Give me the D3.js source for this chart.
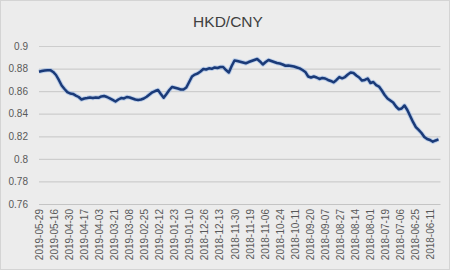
<!DOCTYPE html>
<html>
<head>
<meta charset="utf-8">
<script src="https://cdn.jsdelivr.net/npm/d3@7"></script>
<style>
  html, body { margin: 0; padding: 0; background: #fff; }
  svg { display: block; font-family: "Liberation Sans", Arial, sans-serif; }
</style>
</head>
<body>
<div id="chart"></div>
<script>
var width = 456, height = 274;

var title = "HKD/CNY";

// newest on the left, as in the source sheet
var dateLabels = [
    "2019-05-29", "2019-05-16", "2019-04-30", "2019-04-17", "2019-04-03", "2019-03-21",
    "2019-03-08", "2019-02-25", "2019-02-12", "2019-01-23", "2019-01-10", "2018-12-26",
    "2018-12-13", "2018-11-30", "2018-11-19", "2018-11-06", "2018-10-24", "2018-10-11",
    "2018-09-20", "2018-09-07", "2018-08-27", "2018-08-14", "2018-08-01", "2018-07-19",
    "2018-07-06", "2018-06-25", "2018-06-11"
];

var yTicks = [0.76, 0.78, 0.8, 0.82, 0.84, 0.86, 0.88, 0.9];

var rates = [
    0.8772, 0.8778, 0.8783, 0.8786, 0.8786, 0.8770, 0.8743, 0.8699, 0.8650, 0.8619,
    0.8592, 0.8579, 0.8575, 0.8561, 0.8548, 0.8526, 0.8535, 0.8539, 0.8544, 0.8539,
    0.8544, 0.8541, 0.8553, 0.8557, 0.8548, 0.8535, 0.8522, 0.8508, 0.8526, 0.8539,
    0.8535, 0.8548, 0.8544, 0.8535, 0.8526, 0.8522, 0.8526, 0.8535, 0.8550, 0.8570,
    0.8590, 0.8601, 0.8610, 0.8575, 0.8542, 0.8575, 0.8610, 0.8637, 0.8630, 0.8623,
    0.8615, 0.8615, 0.8632, 0.8681, 0.8730, 0.8747, 0.8756, 0.8774, 0.8796, 0.8792,
    0.8802, 0.8798, 0.8810, 0.8805, 0.8814, 0.8814, 0.8787, 0.8765, 0.8823, 0.8872,
    0.8867, 0.8861, 0.8854, 0.8847, 0.8858, 0.8867, 0.8876, 0.8885, 0.8863, 0.8836,
    0.8858, 0.8876, 0.8867, 0.8858, 0.8849, 0.8845, 0.8836, 0.8825, 0.8827, 0.8823,
    0.8818, 0.8810, 0.8802, 0.8787, 0.8770, 0.8730, 0.8721, 0.8730, 0.8721, 0.8708,
    0.8717, 0.8712, 0.8699, 0.8690, 0.8678, 0.8699, 0.8725, 0.8714, 0.8725, 0.8747,
    0.8765, 0.8761, 0.8739, 0.8721, 0.8694, 0.8699, 0.8712, 0.8672, 0.8681, 0.8654,
    0.8641, 0.8606, 0.8566, 0.8535, 0.8517, 0.8499, 0.8464, 0.8439, 0.8446, 0.8473,
    0.8433, 0.8380, 0.8327, 0.8282, 0.8256, 0.8229, 0.8194, 0.8176, 0.8167, 0.8152,
    0.8163, 0.8172
];
// index of the point that carries the last date label
var lastLabelIdx = 138;

var margin = {left: 39, right: 16, top: 46, bottom: 70};

var svg = d3.select("#chart")
    .append("svg")
    .attr("width", width)
    .attr("height", height);

svg.append("rect")
    .attr("x", 0.5).attr("y", 0.5)
    .attr("width", 449).attr("height", 269)
    .attr("fill", "#ececec")
    .attr("stroke", "#d4d4d4");

var x = d3.scaleLinear()
    .domain([0, rates.length - 1])
    .range([margin.left, width - margin.right - 1.5]);

var y = d3.scaleLinear()
    .domain([0.76, 0.9])
    .range([height - margin.bottom, margin.top]);

// gridlines + y labels
var yAxis = d3.axisLeft(y)
    .tickValues(yTicks)
    .tickSize(-(x.range()[1] - x.range()[0] + 2))
    .tickPadding(11)
    .tickFormat(d => String(+d.toFixed(2)));

var gy = svg.append("g")
    .attr("transform", "translate(" + margin.left + ",0)")
    .call(yAxis);
gy.select(".domain").remove();
gy.selectAll(".tick line")
    .attr("stroke", d => d === 0.76 ? "#c4c4c4" : "#cdcdcd")
    .attr("stroke-width", 1.2);
gy.selectAll(".tick text")
    .attr("fill", "#595959")
    .attr("font-size", "10px")
    .attr("font-family", "Liberation Sans, Arial, sans-serif");

// rotated date labels, evenly spread up to lastLabelIdx
var step = lastLabelIdx / (dateLabels.length - 1);
var labelPos = dateLabels.map((d, i) => i * step);
var xAxis = d3.axisBottom(x)
    .tickValues(labelPos)
    .tickSize(0)
    .tickFormat((d, i) => dateLabels[i]);

var gx = svg.append("g")
    .attr("transform", "translate(0," + (height - margin.bottom) + ")")
    .call(xAxis);
gx.select(".domain").remove();
gx.selectAll(".tick text")
    .attr("fill", "#595959")
    .attr("font-size", "10px")
    .attr("font-family", "Liberation Sans, Arial, sans-serif")
    .attr("text-anchor", "end")
    .attr("transform", "rotate(-90)")
    .attr("x", -5)
    .attr("y", 0)
    .attr("dy", "0.35em");

// line with a soft halo
var line = d3.line()
    .x((d, i) => x(i))
    .y(d => y(d));

svg.append("path")
    .datum(rates)
    .attr("fill", "none")
    .attr("stroke", "#8fb2e6")
    .attr("stroke-width", 4.4)
    .attr("stroke-opacity", 0.55)
    .attr("stroke-linejoin", "round")
    .attr("d", line);

svg.append("path")
    .datum(rates)
    .attr("fill", "none")
    .attr("stroke", "#1a3a78")
    .attr("stroke-width", 2.5)
    .attr("stroke-linejoin", "round")
    .attr("d", line);

svg.append("text")
    .attr("x", 228)
    .attr("y", 27)
    .attr("text-anchor", "middle")
    .attr("fill", "#404040")
    .attr("font-size", "15.5px")
    .attr("font-family", "Liberation Sans, Arial, sans-serif")
    .text(title);
</script>
</body>
</html>
